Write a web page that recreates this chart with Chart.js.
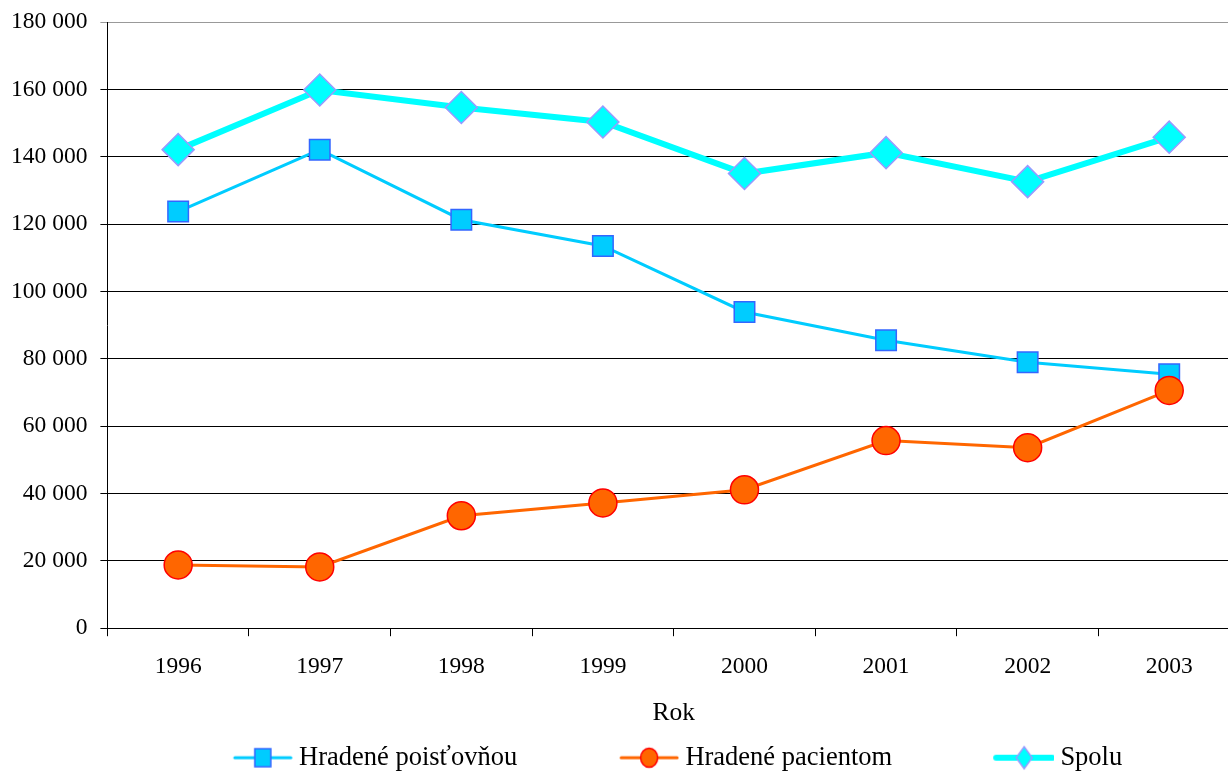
<!DOCTYPE html>
<html>
<head>
<meta charset="utf-8">
<title>Hradené poisťovňou a pacientom</title>
<script src="https://cdn.jsdelivr.net/npm/chart.js"></script>
<style>
    body { margin: 0; overflow: hidden; background: #fff; }
    canvas { display: block; }
</style>
</head>
<body>
<canvas id="chart" width="1240" height="771"></canvas>
<script>
    // Data
    const years = ['1996', '1997', '1998', '1999', '2000', '2001', '2002', '2003'];
    const poistovnou = [123700, 142100, 121300, 113500, 93900, 85500, 79000, 75400];
    const pacientom = [18800, 18200, 33400, 37200, 41100, 55700, 53600, 70600];
    const spolu = [142100, 159800, 154600, 150300, 135000, 141200, 132600, 145800];
    const seriesNames = ['Hradené poisťovňou', 'Hradené pacientom', 'Spolu'];

    const FONT = 'Liberation Serif, Times New Roman, serif';
    const BOX = 152; // legend box width, the visible symbol sits at its right end

    // canvas used as legend symbol: line with marker, drawn at the right side
    function legendIcon(lineColor, lineWidth, shape, fill, border) {
        const c = document.createElement('canvas');
        c.width = BOX + 14; c.height = 26;
        const g = c.getContext('2d');
        const x1 = c.width - 58, x2 = c.width - 2, mx = (x1 + x2) / 2;
        g.strokeStyle = lineColor;
        g.lineWidth = lineWidth;
        g.lineCap = 'round';
        g.beginPath(); g.moveTo(x1, 13); g.lineTo(x2, 13); g.stroke();
        g.fillStyle = fill;
        g.strokeStyle = border;
        g.lineWidth = 1.5;
        g.beginPath();
        if (shape === 'rect') {
            g.rect(mx - 8, 4, 16, 18);
        } else if (shape === 'circle') {
            g.ellipse(mx, 13, 8.5, 9.5, 0, 0, Math.PI * 2);
        } else {
            g.moveTo(mx, 2); g.lineTo(mx + 8, 13); g.lineTo(mx, 24); g.lineTo(mx - 8, 13); g.closePath();
        }
        g.fill(); g.stroke();
        return c;
    }

    const icons = [
        legendIcon('#00CCFF', 3, 'rect', '#00CCFF', '#3366FF'),
        legendIcon('#FF6600', 3, 'circle', '#FF6600', '#FF0000'),
        legendIcon('#00FFFF', 6, 'rectRot', '#00FFFF', '#9999FF')
    ];

    // nudge the legend a little to the right, like in the original
    const legendShift = {
        id: 'legendShift',
        afterLayout(chart) {
            chart.legend.left += 18;
        }
    };

    const ctx = document.getElementById('chart').getContext('2d');
    const chart = new Chart(ctx, {
        type: 'line',
        data: {
            labels: years,
            datasets: [{
                label: seriesNames[0],
                data: poistovnou,
                borderColor: '#00CCFF',
                borderWidth: 3,
                pointStyle: 'rect',
                pointRadius: 14.5,
                pointBackgroundColor: '#00CCFF',
                pointBorderColor: '#3366FF',
                pointBorderWidth: 1.5,
                order: 3
            }, {
                label: seriesNames[1],
                data: pacientom,
                borderColor: '#FF6600',
                borderWidth: 3,
                pointStyle: 'circle',
                pointRadius: 14,
                pointBackgroundColor: '#FF6600',
                pointBorderColor: '#FF0000',
                pointBorderWidth: 1.5,
                order: 2
            }, {
                label: seriesNames[2],
                data: spolu,
                borderColor: '#00FFFF',
                borderWidth: 6,
                pointStyle: 'rectRot',
                pointRadius: 16,
                pointBackgroundColor: '#00FFFF',
                pointBorderColor: '#9999FF',
                pointBorderWidth: 1.5,
                order: 1
            }]
        },
        options: {
            responsive: false,
            animation: false,
            layout: { autoPadding: false, padding: { top: 22, left: -2, right: 0, bottom: -10 } },
            elements: { line: { tension: 0 } },
            scales: {
                x: {
                    offset: true,
                    grid: { offset: true, drawOnChartArea: false, tickLength: 8, color: '#000' },
                    border: { color: '#000', width: 1 },
                    ticks: { color: '#000', font: { family: FONT, size: 23.5 }, padding: 17 },
                    title: {
                        display: true, text: 'Rok', color: '#000',
                        font: { family: FONT, size: 25.5 },
                        padding: { top: 0, bottom: 12.5 }
                    }
                },
                y: {
                    min: 0,
                    max: 180000,
                    afterFit: s => { s.paddingTop = 0; s.paddingBottom = 0; },
                    ticks: {
                        stepSize: 20000,
                        color: '#000',
                        font: { family: FONT, size: 23.5 },
                        padding: 13,
                        callback: v => v.toLocaleString('en-US').replace(/,/g, ' ')
                    },
                    grid: {
                        tickLength: 7,
                        color: c => c.tick && c.tick.value === 180000 ? '#999' : '#000',
                        lineWidth: 1
                    },
                    border: { color: '#000', width: 1 }
                }
            },
            plugins: {
                tooltip: { enabled: false },
                legend: {
                    position: 'bottom',
                    labels: {
                        color: '#000',
                        font: { family: FONT, size: 26.5 },
                        usePointStyle: true,
                        pointStyleWidth: BOX,
                        padding: 3,
                        generateLabels: chart => chart.data.datasets.map((ds, i) => ({
                            text: ds.label,
                            pointStyle: icons[i],
                            datasetIndex: i,
                            hidden: false,
                            fontColor: '#000',
                            lineWidth: 0
                        }))
                    }
                }
            }
        },
        plugins: [legendShift]
    });
</script>
</body>
</html>
